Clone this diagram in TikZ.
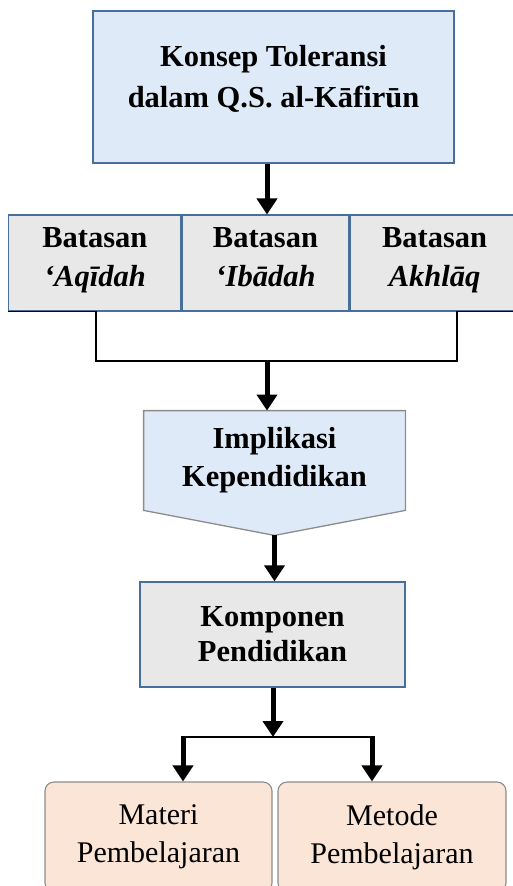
\documentclass[tikz,border=0pt]{standalone}
\usepackage{fontspec}
\setmainfont{Liberation Serif}
\usetikzlibrary{positioning, arrows.meta, backgrounds, calc}
\definecolor{boxblue}{RGB}{222,234,247}
\definecolor{boxgray}{RGB}{232,232,232}
\definecolor{boxpeach}{RGB}{251,229,214}
\definecolor{edgeblue}{RGB}{70,112,155}
\definecolor{edgegray}{RGB}{140,140,140}
\tikzstyle{topbox} = [rectangle, draw=edgeblue, line width=1.6pt, fill=boxblue, minimum width=361pt,
minimum height=152pt, align=center, text depth=22pt, font=\fontsize{30.5pt}{41pt}\selectfont\bfseries]
\tikzstyle{limit} = [rectangle, draw=edgeblue, line width=1.1pt, fill=boxgray, minimum height=96pt,
align=center, execute at end node=\strut, font=\fontsize{30.5pt}{39pt}\selectfont\bfseries]
\tikzstyle{comp} = [rectangle, draw=edgeblue, line width=1.3pt, fill=boxgray, minimum width=265pt,
minimum height=105pt, align=center, font=\fontsize{30.5pt}{35pt}\selectfont\bfseries]
\tikzstyle{learn} = [rectangle, rounded corners=9pt, draw=edgegray, line width=1.1pt, fill=boxpeach,
minimum height=110pt, align=center, font=\fontsize{30pt}{38pt}\selectfont]
\tikzstyle{arrow} = [line width=5pt, -{Triangle[length=16pt, width=20pt]}]

\begin{document}
\begin{tikzpicture}[node distance=0pt, thick]
  \useasboundingbox (0,0) rectangle (513pt,-886pt);
  \clip (0,0) rectangle (513pt,-886pt);

  \node (konsep) [topbox] at (273.5pt,-87pt) {Konsep Toleransi\\dalam Q.S. al-Kāfirūn};

  \node (ibadah) [limit, minimum width=167pt] at (265.5pt,-263pt) {Batasan\\\textit{‘Ibādah}};
  \node (aqidah) [limit, minimum width=172pt, left=of ibadah] {Batasan\\\textit{‘Aqīdah}};
  \node (akhlaq) [limit, minimum width=169pt, right=of ibadah] {Batasan\\\textit{Akhlāq}};

  \coordinate (brl) at (96pt,-361pt);
  \coordinate (brm) at (267pt,-361pt);
  \coordinate (brr) at (457pt,-361pt);

  \node (implikasi) [rectangle, minimum width=261pt, minimum height=99pt, align=center,
  font=\fontsize{30.5pt}{38pt}\selectfont\bfseries] at (274.5pt,-460.5pt) {Implikasi\\Kependidikan};
  \coordinate (tip) at ($(implikasi.south)+(0,-25pt)$);
  \begin{scope}[on background layer]
    \draw[draw=edgegray, line width=1.3pt, fill=boxblue] (implikasi.north west) -- (implikasi.north east)
    -- (implikasi.south east) -- (tip) -- (implikasi.south west) -- cycle;
  \end{scope}

  \node (komponen) [comp] at (272.5pt,-634.5pt) {Komponen\\Pendidikan};

  \coordinate (split) at (273pt,-737pt);
  \coordinate (spl) at (183pt,-737pt);
  \coordinate (spr) at (372pt,-737pt);

  \node (materi) [learn, minimum width=227pt] at (158.5pt,-837pt) {Materi\\Pembelajaran};
  \node (metode) [learn, minimum width=228pt] at (392pt,-837pt) {Metode\\Pembelajaran};

  % bracket under the three limits
  \draw[line width=1.3pt] (aqidah.south west) -- (aqidah.south west -| brl) -- (brl) -- (brr)
  -- (brr |- akhlaq.south) -- (akhlaq.south east);

  \draw[arrow] (konsep.south -| brm) -- (brm |- ibadah.north);
  \draw[arrow] (brm) -- (brm |- implikasi.north);
  \draw[arrow] (tip) -- (tip |- komponen.north);
  \draw[arrow] (komponen.south -| split) -- (split);
  \draw[line width=2.4pt] (spl) -- (spr);
  \draw[arrow] ([yshift=1.2pt]spl) -- (spl |- materi.north);
  \draw[arrow] ([yshift=1.2pt]spr) -- (spr |- metode.north);

\end{tikzpicture}
\end{document}
